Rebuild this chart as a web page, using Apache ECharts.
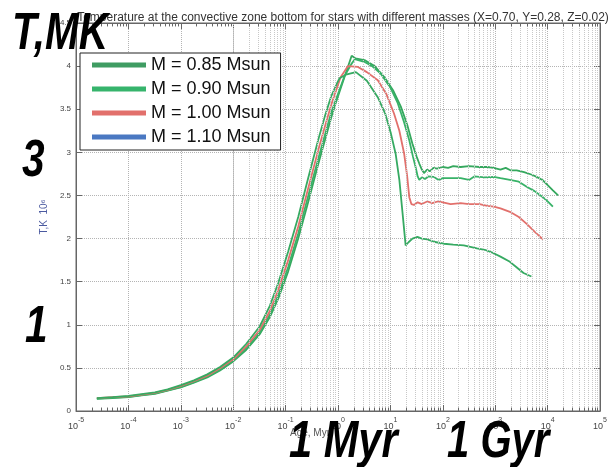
<!DOCTYPE html>
<html><head><meta charset="utf-8">
<script src="https://cdn.jsdelivr.net/npm/echarts@6/dist/echarts.min.js"></script>
<style>html,body{margin:0;padding:0;background:#fff}#c{width:610px;height:467px}</style>
</head><body><div id="c"></div>
<script>
const titleText = 'Temperature at the convective zone bottom for stars with different masses (X=0.70, Y=0.28, Z=0.02)';
const seriesNames = ['M = 0.85 Msun', 'M = 0.90 Msun', 'M = 1.00 Msun', 'M = 1.10 Msun'];
const xAxisLabel = 'Age, Myr';
const yAxisLabel = 'T,K  10\u2076';
const bigLabels = ['T,MK', '3', '1', '1 Myr', '1 Gyr'];

// ages in Myr, temperature in 10^6 K
const age085 = [2.5e-5, 5e-5, 1e-4, 1.78e-4, 3.2e-4, 5.6e-4, 1e-3, 1.78e-3, 3.2e-3, 5.6e-3, 0.01, 0.0178, 0.032, 0.05, 0.072, 0.112, 0.174, 0.269, 0.417, 0.562, 0.74, 0.87, 1.41, 1.82, 2.14, 3.2, 5.0, 7.7, 11.2, 15.8, 20.9, 26.3, 31.6, 35.5, 39.8, 43.6, 50.1, 56.2, 66, 77.6, 100, 126, 158, 219, 316, 501, 708, 933, 1259, 1585, 1995, 2570, 3548, 5012, 6166, 7943, 10000, 12589, 15849];
const temp085 = [0.14, 0.15, 0.16, 0.18, 0.20, 0.235, 0.275, 0.33, 0.39, 0.47, 0.575, 0.71, 0.89, 1.09, 1.30, 1.62, 2.00, 2.42, 2.86, 3.14, 3.40, 3.54, 3.92, 4.12, 4.09, 4.07, 4.00, 3.87, 3.72, 3.53, 3.32, 3.10, 2.95, 2.87, 2.80, 2.76, 2.80, 2.78, 2.82, 2.81, 2.83, 2.82, 2.84, 2.83, 2.84, 2.83, 2.83, 2.82, 2.80, 2.82, 2.79, 2.79, 2.77, 2.74, 2.715, 2.68, 2.62, 2.56, 2.50];

const age090 = [2.5e-5, 5e-5, 1e-4, 1.78e-4, 3.2e-4, 5.6e-4, 1e-3, 1.78e-3, 3.2e-3, 5.6e-3, 0.01, 0.0178, 0.032, 0.05, 0.072, 0.112, 0.174, 0.269, 0.417, 0.562, 0.74, 1.32, 1.78, 2.09, 3.16, 4.47, 6.6, 10, 13.8, 18.2, 22.9, 26.9, 30.2, 33.1, 35.5, 39.8, 45.7, 52.5, 67.6, 83.2, 100, 141, 219, 316, 398, 631, 933, 1259, 1905, 2818, 3981, 5623, 8128, 10000, 12589];
const temp090 = [0.145, 0.155, 0.165, 0.185, 0.205, 0.24, 0.28, 0.335, 0.40, 0.48, 0.585, 0.73, 0.91, 1.12, 1.34, 1.67, 2.06, 2.49, 2.92, 3.20, 3.46, 3.88, 4.02, 4.08, 4.05, 4.00, 3.91, 3.75, 3.57, 3.35, 3.14, 2.95, 2.83, 2.72, 2.68, 2.71, 2.69, 2.72, 2.715, 2.68, 2.70, 2.70, 2.70, 2.68, 2.72, 2.71, 2.715, 2.70, 2.68, 2.66, 2.60, 2.55, 2.48, 2.43, 2.37];

const age100 = [2.5e-5, 5e-5, 1e-4, 1.78e-4, 3.2e-4, 5.6e-4, 1e-3, 1.78e-3, 3.2e-3, 5.6e-3, 0.01, 0.0178, 0.032, 0.05, 0.072, 0.112, 0.174, 0.269, 0.417, 0.562, 0.74, 1.12, 1.55, 2.4, 3.55, 5.75, 8.3, 11.7, 14.8, 18.2, 20.9, 22.9, 25.1, 28.2, 33.1, 39.8, 50.1, 63.1, 79.4, 100, 141, 219, 316, 501, 708, 933, 1259, 1905, 2818, 3981, 5623, 8128];
const temp100 = [0.15, 0.16, 0.17, 0.19, 0.21, 0.245, 0.29, 0.345, 0.41, 0.495, 0.60, 0.75, 0.94, 1.16, 1.40, 1.75, 2.14, 2.58, 3.02, 3.30, 3.55, 3.87, 4.00, 3.99, 3.93, 3.835, 3.68, 3.45, 3.25, 2.99, 2.72, 2.48, 2.40, 2.39, 2.42, 2.40, 2.43, 2.41, 2.43, 2.42, 2.40, 2.41, 2.40, 2.40, 2.38, 2.37, 2.35, 2.31, 2.25, 2.17, 2.08, 1.99];

const age110 = [2.5e-5, 5e-5, 1e-4, 1.78e-4, 3.2e-4, 5.6e-4, 1e-3, 1.78e-3, 3.2e-3, 5.6e-3, 0.01, 0.0178, 0.032, 0.05, 0.072, 0.112, 0.174, 0.269, 0.417, 0.562, 0.74, 0.955, 1.07, 1.41, 2.19, 3.55, 5.73, 7.94, 10.2, 12.6, 14.8, 17.0, 19.5, 22.4, 26.3, 32.7, 39.8, 50.1, 70.8, 105, 158, 251, 447, 631, 933, 1259, 1905, 2512, 3467, 4898];
const temp110 = [0.15, 0.16, 0.175, 0.195, 0.215, 0.25, 0.30, 0.355, 0.425, 0.51, 0.62, 0.78, 0.98, 1.22, 1.48, 1.85, 2.25, 2.70, 3.14, 3.42, 3.65, 3.80, 3.86, 3.90, 3.93, 3.83, 3.64, 3.45, 3.22, 2.98, 2.68, 2.30, 1.92, 1.96, 2.00, 2.02, 2.00, 1.99, 1.96, 1.94, 1.93, 1.92, 1.885, 1.87, 1.83, 1.79, 1.73, 1.67, 1.60, 1.56];

const lineColors = ['#35a85e', '#38b268', '#e2706c', '#36aa62'];
const legendColors = ['#3f9c62', '#36b46c', '#e2706c', '#4a78c2'];

const ages = [age085, age090, age100, age110];
const temps = [temp085, temp090, temp100, temp110];

// decorative log minor grid positions (k * 10^d)
const minorX = [];
for (let d = -5; d < 5; d++) for (let k = 2; k <= 9; k++) minorX.push(k * Math.pow(10, d));

const chart = echarts.init(document.getElementById('c'), null, {renderer: 'canvas'});
const FONT = 'Liberation Sans, Arial, sans-serif';

const series = seriesNames.map((n, i) => ({
  name: n, type: 'line', symbol: 'none', smooth: false, z: 3,
  color: lineColors[i],
  lineStyle: {width: 1.8, color: lineColors[i]},
  data: ages[i].map((a, j) => [a, temps[i][j]])
}));

series.push({
  name: 'grid', type: 'line', data: [], silent: true, z: 1,
  markLine: {
    silent: true, animation: false, symbol: ['none', 'none'], label: {show: false},
    lineStyle: {type: 'dotted', color: '#c8c8c8', width: 1},
    emphasis: {disabled: true},
    data: minorX.map(v => ({xAxis: v}))
  }
});
series.push({
  name: 'ticks', type: 'line', data: [], silent: true, z: 2,
  markLine: {
    silent: true, animation: false, symbol: ['none', 'none'], label: {show: false},
    lineStyle: {type: 'solid', color: '#666', width: 1},
    emphasis: {disabled: true},
    data: minorX.map(v => [{coord: [v, 0]}, {coord: [v, 0.04]}]).concat(minorX.map(v => [{coord: [v, 4.5]}, {coord: [v, 4.46]}]))
  }
});

const bigFont = 'italic bold 52px "Liberation Sans", Arial, sans-serif';
const graphics = [
  {type: 'text', x: 290, y: 428, z: 50, style: {text: xAxisLabel, font: '10px "Liberation Sans", Arial', fill: '#555'}},
  {type: 'text', x: 12, y: 35, scaleX: 0.78, z: 100, style: {text: bigLabels[0], font: bigFont, fill: '#000', verticalAlign: 'middle'}},
  {type: 'text', x: 22, y: 162, scaleX: 0.78, z: 100, style: {text: bigLabels[1], font: bigFont, fill: '#000', verticalAlign: 'middle'}},
  {type: 'text', x: 25, y: 328, scaleX: 0.78, z: 100, style: {text: bigLabels[2], font: bigFont, fill: '#000', verticalAlign: 'middle'}},
  {type: 'text', x: 289, y: 443, scaleX: 0.8, z: 100, style: {text: bigLabels[3], font: bigFont, fill: '#000', verticalAlign: 'middle'}},
  {type: 'text', x: 447, y: 443, scaleX: 0.77, z: 100, style: {text: bigLabels[4], font: bigFont, fill: '#000', verticalAlign: 'middle'}}
];

const option = {
  animation: false,
  backgroundColor: '#fff',
  title: {text: titleText, left: 338, top: 7, textAlign: 'center',
    textStyle: {fontSize: 12, fontWeight: 'normal', color: '#333', fontFamily: FONT}},
  grid: {left: 76, right: 6, top: 23, bottom: 56, show: true, borderColor: '#666', borderWidth: 1, backgroundColor: 'transparent'},
  legend: {
    orient: 'vertical', left: 80, top: 53, selectedMode: false, icon: 'rect',
    itemWidth: 54, itemHeight: 5, itemGap: 4, padding: [2, 10, 3, 12],
    backgroundColor: '#fff', borderColor: '#222', borderWidth: 1, z: 20,
    textStyle: {fontSize: 18, color: '#111', lineHeight: 20, fontFamily: FONT},
    data: seriesNames.map((n, i) => ({name: n, itemStyle: {color: legendColors[i]}}))
  },
  xAxis: [{
    type: 'log', logBase: 10, min: 1e-5, max: 1e5, interval: 1,
    axisLine: {show: true, onZero: false, lineStyle: {color: '#666'}},
    axisTick: {show: true, inside: true, length: 6, interval: 0, lineStyle: {color: '#666'}},
    splitLine: {show: true, interval: 0, lineStyle: {type: 'dotted', color: '#b4b4b4'}},
    axisLabel: {
      margin: 6, color: '#444', interval: 0, hideOverlap: false,
      formatter: v => '{b|10}{s|' + Math.round(Math.log10(v)) + '}',
      rich: {b: {fontSize: 9, color: '#444', fontFamily: FONT, padding: [5, 0, 0, 0]},
             s: {fontSize: 7, color: '#444', fontFamily: FONT, verticalAlign: 'top'}}
    }
  }, {
    type: 'log', logBase: 10, min: 1e-5, max: 1e5, interval: 1, position: 'top',
    axisLine: {show: true, onZero: false, lineStyle: {color: '#666'}},
    axisTick: {show: true, inside: true, length: 6, interval: 0, lineStyle: {color: '#666'}},
    axisLabel: {show: false}, splitLine: {show: false}
  }],
  yAxis: [{
    type: 'value', min: 0, max: 4.5, interval: 0.5,
    name: yAxisLabel, nameLocation: 'middle', nameGap: 22, nameRotate: 90,
    nameTextStyle: {color: '#4b5aa0', fontSize: 10, fontFamily: FONT},
    axisLine: {show: true, lineStyle: {color: '#666'}},
    axisTick: {show: true, inside: true, length: 6, lineStyle: {color: '#666'}},
    splitLine: {show: true, lineStyle: {type: 'dotted', color: '#b4b4b4'}},
    axisLabel: {fontSize: 8, color: '#444', margin: 5, fontFamily: FONT}
  }, {
    type: 'value', min: 0, max: 4.5, interval: 0.5, position: 'right',
    axisLine: {show: true, lineStyle: {color: '#666'}},
    axisTick: {show: true, inside: true, length: 6, lineStyle: {color: '#666'}},
    axisLabel: {show: false}, splitLine: {show: false}
  }],
  series: series,
  graphic: graphics
};
chart.setOption(option);
</script>
</body></html>
